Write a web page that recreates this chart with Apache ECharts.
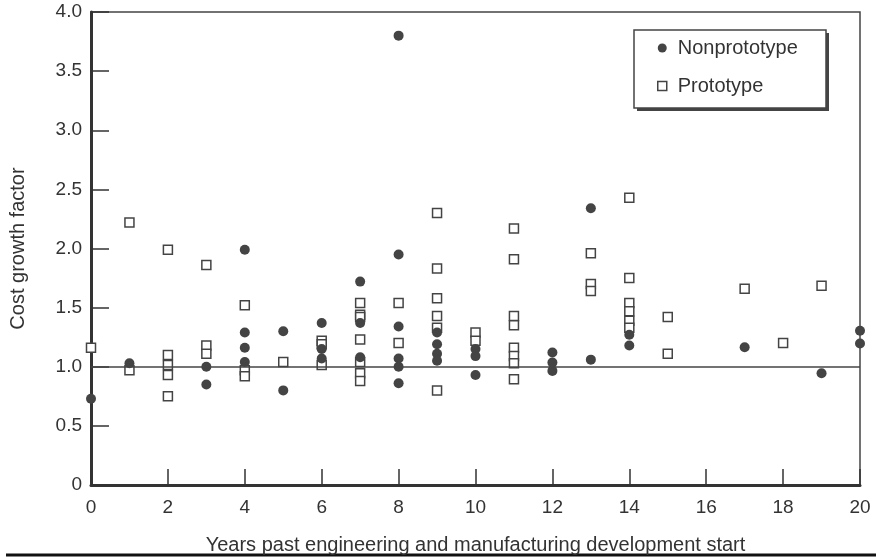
<!DOCTYPE html>
<html>
<head>
<meta charset="utf-8">
<script src="https://cdn.jsdelivr.net/npm/echarts@6/dist/echarts.min.js"></script>
<style>
  html, body { margin: 0; padding: 0; background: #fff; }
  #main { width: 876px; height: 557px; }
</style>
</head>
<body>
<div id="main"></div>
<script>
// data
const nonprotoYears = [0, 1, 3, 3, 4, 4, 4, 4, 5, 5, 6, 6, 6, 7, 7, 7,
  8, 8, 8, 8, 8, 8, 9, 9, 9, 9, 10, 10, 10, 12, 12, 12, 13, 13, 14, 14, 17, 19, 20, 20];
const nonprotoCost = [0.73, 1.03, 1.0, 0.85, 1.99, 1.29, 1.16, 1.04, 1.30, 0.80, 1.37, 1.15, 1.07, 1.72, 1.37, 1.08,
  3.80, 1.95, 1.34, 1.07, 1.0, 0.86, 1.29, 1.19, 1.11, 1.05, 1.15, 1.09, 0.93, 1.12, 1.035, 0.965, 2.34, 1.06, 1.27, 1.18, 1.165, 0.945, 1.305, 1.196];

const protoYears = [0, 1, 1, 2, 2, 2, 2, 2, 3, 3, 3, 4, 4, 4, 5, 6, 6, 6,
  7, 7, 7, 7, 7, 7, 7, 8, 8, 9, 9, 9, 9, 9, 9, 10, 10,
  11, 11, 11, 11, 11, 11, 11, 11, 13, 13, 13, 14, 14, 14, 14, 14, 14, 15, 15, 17, 18, 19];
const protoCost = [1.16, 2.22, 0.97, 1.99, 1.10, 1.015, 0.93, 0.75, 1.86, 1.18, 1.11, 1.52, 0.97, 0.92, 1.04, 1.22, 1.19, 1.015,
  1.54, 1.44, 1.42, 1.23, 1.04, 0.945, 0.88, 1.54, 1.20, 2.30, 1.83, 1.58, 1.43, 1.33, 0.80, 1.29, 1.22,
  2.17, 1.91, 1.43, 1.35, 1.16, 1.09, 1.03, 0.895, 1.96, 1.70, 1.64, 2.43, 1.75, 1.54, 1.47, 1.39, 1.33, 1.42, 1.11, 1.66, 1.20, 1.685];

const xTicks = [0, 20, 2];     // min, max, interval
const yTicks = [0, 4, 0.5];
const refLine = 1.0;

function pairs(xs, ys) {
  return xs.map((x, i) => [x, ys[i]]);
}

let myChart = echarts.init(document.getElementById('main'));

const ink = '#333';
const font = 'Liberation Sans, Arial, sans-serif';

let option = {
  animation: false,
  backgroundColor: '#fff',
  textStyle: { fontFamily: font, color: ink },
  grid: {
    left: 91, right: 16, top: 12, bottom: 72,
    outerBoundsMode: 'none',
    show: true, borderColor: '#444', borderWidth: 1.5
  },
  legend: {
    orient: 'vertical',
    left: 657, top: 38,
    padding: 0,
    itemGap: 18,
    itemWidth: 9, itemHeight: 9,
    textStyle: { fontSize: 20, color: ink, fontFamily: font, padding: [0, 0, 0, 6] },
    data: [
      { name: 'Nonprototype', icon: 'circle', itemStyle: { color: '#444', borderWidth: 0 } },
      { name: 'Prototype', icon: 'rect', itemStyle: { color: '#fff', borderColor: '#444', borderWidth: 1.5 } }
    ],
    z: 10
  },
  xAxis: {
    type: 'value',
    min: xTicks[0], max: xTicks[1], interval: xTicks[2],
    name: 'Years past engineering and manufacturing development start',
    nameLocation: 'middle', nameGap: 50,
    nameTextStyle: { fontSize: 20, color: ink },
    axisLine: { onZero: false, lineStyle: { color: ink, width: 3 } },
    axisTick: { inside: true, length: 16, lineStyle: { color: ink, width: 1.5 } },
    axisLabel: { fontSize: 19, color: ink, margin: 13 },
    splitLine: { show: false }
  },
  yAxis: {
    type: 'value',
    min: yTicks[0], max: yTicks[1], interval: yTicks[2],
    name: 'Cost growth factor',
    nameLocation: 'middle', nameGap: 63,
    nameTextStyle: { fontSize: 20, color: ink },
    axisLine: { show: true, onZero: false, lineStyle: { color: ink, width: 3 } },
    axisTick: { show: true, inside: true, length: 18, lineStyle: { color: ink, width: 1.5 } },
    axisLabel: {
      fontSize: 19, color: ink, margin: 9,
      formatter: v => (v === 0 ? '0' : v.toFixed(1))
    },
    splitLine: { show: false }
  },
  series: [
    {
      name: 'Nonprototype',
      type: 'scatter',
      symbol: 'circle',
      symbolSize: 10,
      clip: false,
      itemStyle: { color: '#444', opacity: 1 },
      data: pairs(nonprotoYears, nonprotoCost),
      markLine: {
        silent: true,
        symbol: 'none',
        label: { show: false },
        lineStyle: { color: '#444', width: 1.5, type: 'solid' },
        data: [{ yAxis: refLine }]
      },
      z: 3
    },
    {
      name: 'Prototype',
      type: 'scatter',
      symbol: 'rect',
      symbolSize: 9,
      clip: false,
      itemStyle: { color: '#fff', borderColor: '#444', borderWidth: 1.5, opacity: 1 },
      data: pairs(protoYears, protoCost),
      z: 2
    }
  ],
  graphic: [
    // legend frame with its drop shadow
    {
      type: 'rect', z: 5,
      shape: { x: 637, y: 33, width: 192, height: 78 },
      style: { fill: '#444' }
    },
    {
      type: 'rect', z: 6,
      shape: { x: 634, y: 30, width: 192, height: 78 },
      style: { fill: '#fff', stroke: '#444', lineWidth: 1.5 }
    },
    {
      type: 'line',
      shape: { x1: 6, y1: 555, x2: 876, y2: 555 },
      style: { stroke: '#111', lineWidth: 3 }
    }
  ]
};

myChart.setOption(option);
</script>
</body>
</html>
